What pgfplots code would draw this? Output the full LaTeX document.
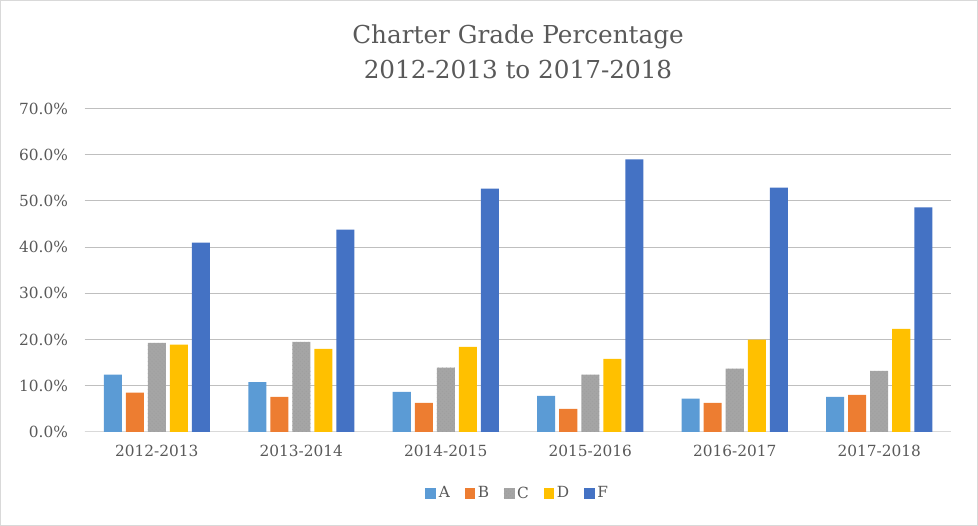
\documentclass[border=0pt]{standalone}
\usepackage{pgfplots}
\pgfplotsset{compat=1.18}
\usepackage{fontspec}
\setmainfont{DejaVu Serif}
\usetikzlibrary{patterns}
\definecolor{cA}{HTML}{5B9BD5}
\definecolor{cB}{HTML}{ED7D31}
\definecolor{cC}{HTML}{A5A5A5}
\definecolor{cD}{HTML}{FFC000}
\definecolor{cF}{HTML}{4472C4}
\definecolor{txt}{HTML}{595959}
\definecolor{grid}{HTML}{D9D9D9}

\pgfplotstableread{
x    A     B    C     D     F
0.5  12.4  8.5  19.3  18.9  41.0
1.5  10.8  7.6  19.5  18.0  43.8
2.5  8.7   6.3  13.9  18.4  52.7
3.5  7.8   5.0  12.4  15.8  59.0
4.5  7.2   6.3  13.7  20.0  52.9
5.5  7.6   8.0  13.2  22.3  48.6
}\grades

\begin{document}
\begin{tikzpicture}
\draw[grid, line width=0.75pt] (-63pt,-69.75pt) rectangle (669pt,323.25pt);
\begin{axis}[
  at={(0,0)}, anchor=origin,
  scale only axis, width=649.5pt, height=242.25pt,
  xmin=0, xmax=6, ymin=0, ymax=70,
  ybar=3pt, bar width=13.5pt,
  xtick={0.5,1.5,2.5,3.5,4.5,5.5},
  xticklabels={2012-2013,2013-2014,2014-2015,2015-2016,2016-2017,2017-2018},
  ytick={0,10,...,70},
  yticklabel={\pgfmathprintnumber[fixed,fixed zerofill,precision=1]{\tick}\%},
  /pgf/number format/assume math mode=true,
  ymajorgrids, xmajorgrids=false, grid style={grid, line width=0.75pt},
  axis x line*=bottom, axis y line*=left,
  x axis line style={grid, line width=0.75pt},
  y axis line style={draw=none},
  major tick length=0pt,
  tick label style={font=\fontsize{11.5}{13}\selectfont, text=txt},
  yticklabel style={xshift=-9pt},
  xticklabel style={yshift=-6pt},
  title={Charter Grade Percentage\\2012-2013 to 2017-2018},
  title style={at={(0.5,1)}, anchor=south, yshift=13pt, align=center,
    font=\fontsize{18.5}{26}\selectfont, text=txt},
  legend style={at={(0.5,0)}, anchor=center, yshift=-46pt, draw=none,
    legend columns=-1, font=\fontsize{11.5}{13}\selectfont, text=txt,
    /tikz/every even column/.append style={column sep=9pt}},
  legend image code/.code={\fill[#1] (0pt,-4pt) rectangle (8pt,4pt);},
]
\addplot[fill=cA, draw=none] table[x=x, y=A] {\grades};
\addplot[fill=cB, draw=none] table[x=x, y=B] {\grades};
\addplot[fill=cC, draw=none, postaction={pattern=crosshatch dots, pattern color=gray!75}] table[x=x, y=C] {\grades};
\addplot[fill=cD, draw=none] table[x=x, y=D] {\grades};
\addplot[fill=cF, draw=none] table[x=x, y=F] {\grades};
\legend{A,B,C,D,F}
\end{axis}
\end{tikzpicture}
\end{document}
